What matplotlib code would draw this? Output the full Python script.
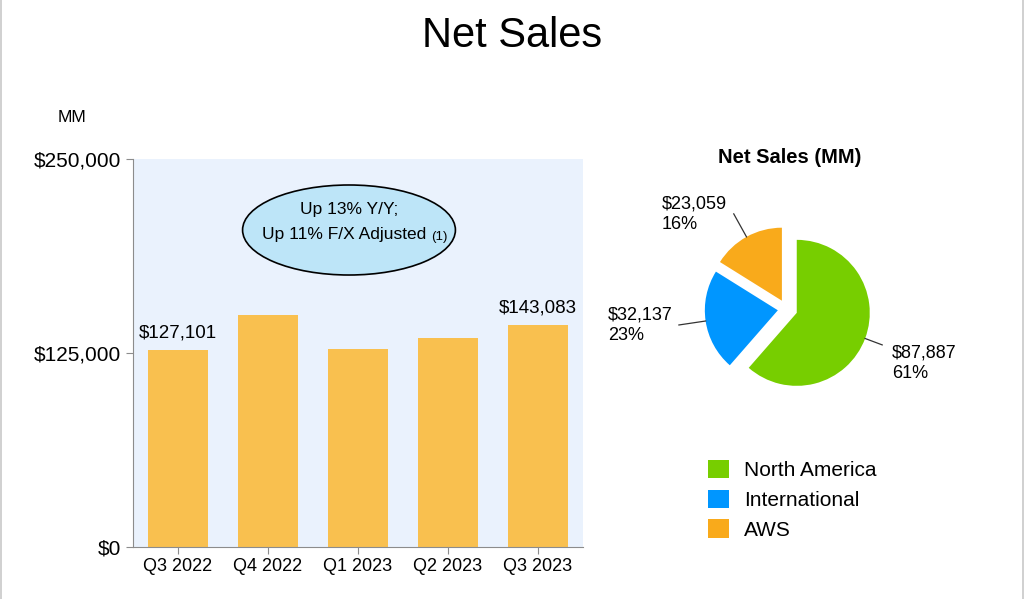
import matplotlib
matplotlib.use("Agg")
import matplotlib.pyplot as plt
import numpy as np
from matplotlib.patches import Ellipse, Patch
from matplotlib.lines import Line2D

plt.rcParams["font.family"] = ["Liberation Sans", "DejaVu Sans"]

quarters = ["Q3 2022", "Q4 2022", "Q1 2023", "Q2 2023", "Q3 2023"]
net_sales = [127101, 149204, 127358, 134383, 143083]
labelled_bars = [0, 4]

segments = ["North America", "International", "AWS"]
segment_sales = [87887, 32137, 23059]
segment_pct = [61, 23, 16]
segment_colors = ["#77CE00", "#0096FF", "#F9AA1B"]

W, H = 1024, 599
fig = plt.figure(figsize=(W / 100, H / 100), dpi=100)


def px_box(x0, y0, x1, y1):
    # pixel box (top-left origin) -> figure fraction rect
    return [x0 / W, 1 - y1 / H, (x1 - x0) / W, (y1 - y0) / H]


fig.text(0.5, 1 - 36 / H, "Net Sales", ha="center", va="center", fontsize=30)
fig.text(72 / W, 1 - 117 / H, "MM", ha="center", va="center", fontsize=12.5)

# ---- bar chart
ax = fig.add_axes(px_box(133, 159, 583, 547))
ax.set_facecolor("#EAF2FD")
x = np.arange(len(quarters))
bars = ax.bar(x, net_sales, width=0.66, color="#F9C04F", zorder=2)
ax.set_xlim(-0.5, len(quarters) - 0.5)
ax.set_ylim(0, 250000)
ax.set_yticks([0, 125000, 250000])
ax.set_yticklabels(["$0", "$125,000", "$250,000"], fontsize=15)
ax.set_xticks(x)
ax.set_xticklabels(quarters, fontsize=13)
for s in ["top", "right"]:
    ax.spines[s].set_visible(False)
for s in ["left", "bottom"]:
    ax.spines[s].set_color("#8C8C8C")
ax.tick_params(axis="both", colors="#8C8C8C", labelcolor="black", length=5)
ax.tick_params(axis="x", pad=3)
for i in labelled_bars:
    ax.annotate("${:,}".format(net_sales[i]), xy=(x[i], net_sales[i]),
                xytext=(0, 6), textcoords="offset points",
                ha="center", va="bottom", fontsize=13.5)

ax.add_patch(Ellipse((0.48, 0.817), 0.473, 0.232, transform=ax.transAxes,
                     facecolor="#BDE5F8", edgecolor="black", lw=1.2, zorder=3))
ax.text(0.48, 0.87, "Up 13% Y/Y;", transform=ax.transAxes, ha="center",
        va="center", fontsize=12.5, zorder=4)
ax.text(0.652, 0.805, "Up 11% F/X Adjusted", transform=ax.transAxes,
        ha="right", va="center", fontsize=12.5, zorder=4)
ax.text(0.662, 0.8, "(1)", transform=ax.transAxes, ha="left", va="center",
        fontsize=9.5, zorder=4)

# ---- pie chart
r_px = 73
cx, cy = 786.5, 309
half = 120
pax = fig.add_axes(px_box(cx - half, cy - half, cx + half, cy + half))
pax.axis("off")
explode = [0.15, 0.12, 0.13]
wedges, _ = pax.pie(segment_sales, colors=segment_colors, startangle=90,
                    counterclock=False, explode=explode, radius=1,
                    wedgeprops=dict(linewidth=0))
pax.set_xlim(-half / r_px, half / r_px)
pax.set_ylim(-half / r_px, half / r_px)

lead_len = [1.25, 1.37, 1.36]
text_off = [(10, -18), (-6, 0), (-7, 0)]
for i, w in enumerate(wedges):
    mid = np.deg2rad((w.theta1 + w.theta2) / 2)
    d = np.array([np.cos(mid), np.sin(mid)])
    apex = explode[i] * d
    p0 = apex + d
    p1 = apex + lead_len[i] * d
    pax.plot([p0[0], p1[0]], [p0[1], p1[1]], color="#333333", lw=0.9)
    ha = "left" if d[0] > 0 else "right"
    pax.annotate("${:,}\n{}%".format(segment_sales[i], segment_pct[i]),
                 xy=p1, xytext=text_off[i], textcoords="offset pixels",
                 ha=ha, va="center", multialignment="left", fontsize=13,
                 linespacing=1.25, annotation_clip=False)

fig.text(790 / W, 1 - 157 / H, "Net Sales (MM)", ha="center", va="center",
         fontsize=14.5, fontweight="bold")

handles = [Patch(facecolor=c, edgecolor="none") for c in segment_colors]
fig.legend(handles, segments, loc="upper left",
           bbox_to_anchor=(691 / W, 1 - 443 / H), frameon=False, fontsize=15,
           handlelength=1.0, handleheight=1.0, handletextpad=0.75,
           labelspacing=0.45, borderpad=0.3)

# page edges
for xe in [0.6 / W, 1022.5 / W]:
    fig.add_artist(Line2D([xe, xe], [0, 1], color="#C8C8C8", lw=1.2))

fig.savefig("out.png", dpi=100)
